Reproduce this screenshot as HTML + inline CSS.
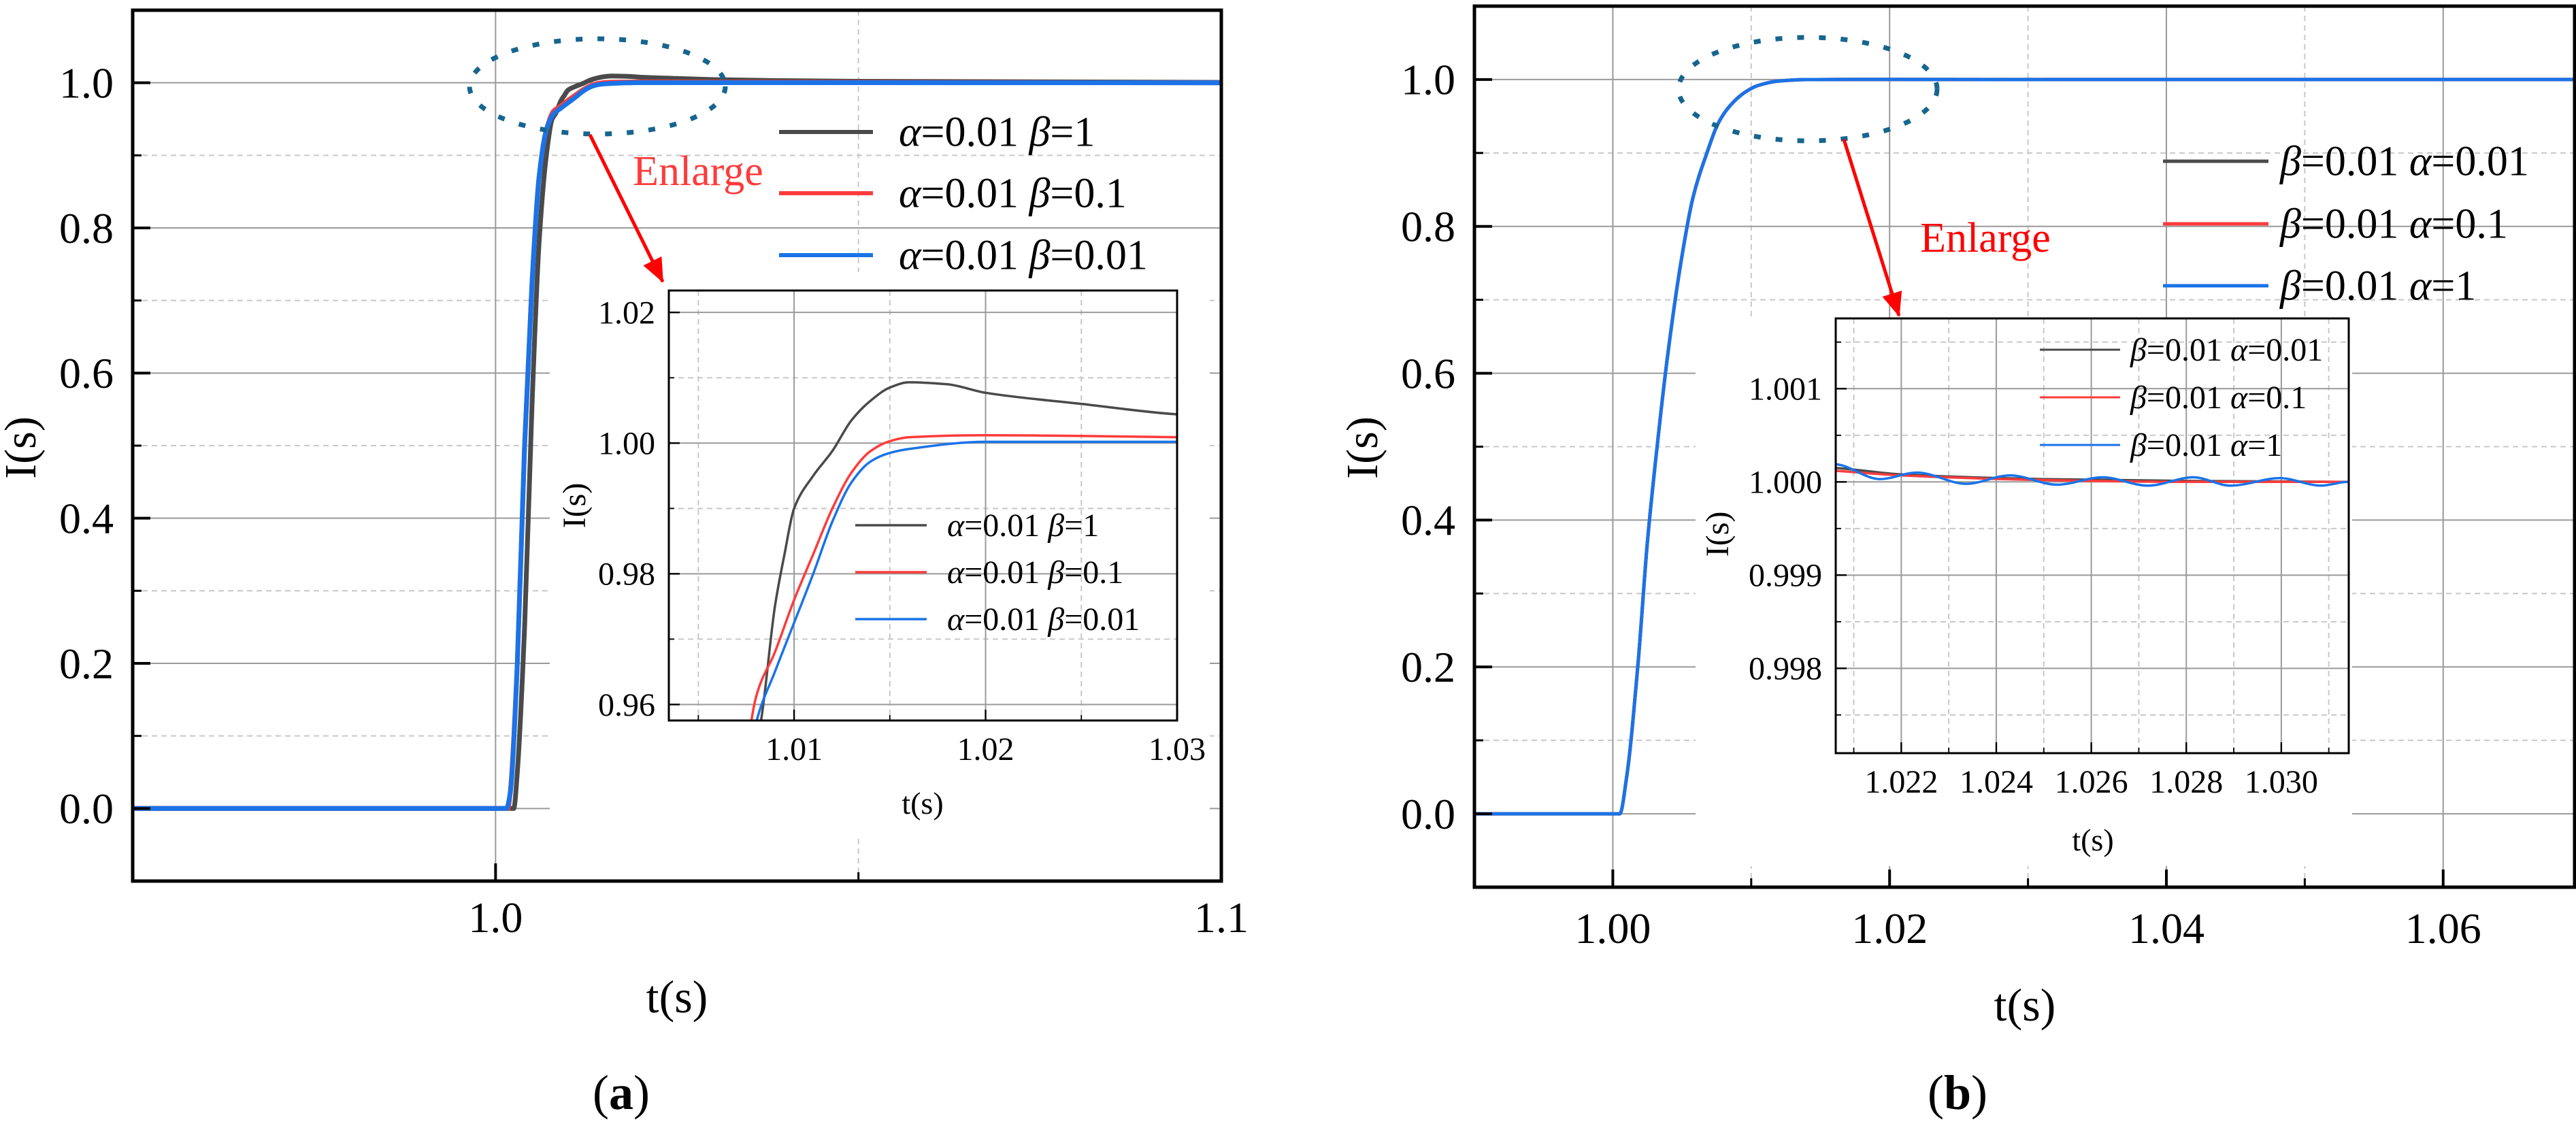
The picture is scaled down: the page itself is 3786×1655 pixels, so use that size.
<!DOCTYPE html>
<html><head><meta charset="utf-8"><style>
html,body{margin:0;padding:0;background:#fff;overflow:hidden;width:3786px;height:1655px;}
svg{display:block;}
svg text{font-family:"Liberation Serif","Times New Roman",Times,serif;}
</style></head><body>
<svg id="fig" width="3786" height="1655" viewBox="0 0 3786 1655" xmlns="http://www.w3.org/2000/svg">
<defs>
<clipPath id="clipA"><rect x="195" y="15" width="1600" height="1280"/></clipPath>
<clipPath id="clipAi"><rect x="983" y="427" width="747" height="632"/></clipPath>
<clipPath id="clipB"><rect x="2167" y="9" width="1617" height="1295"/></clipPath>
<clipPath id="clipBi"><rect x="2698" y="468" width="754" height="639"/></clipPath>
<marker id="arrowHead" markerWidth="36" markerHeight="30" refX="34" refY="15" orient="auto" markerUnits="userSpaceOnUse" viewBox="0 0 36 30"><path d="M0,0 L36,15 L0,30 z" fill="#ff0000"/></marker>
</defs>
</svg>
<script>
// ===== Panel (a) data: time values and current values =====
const aBlackT = [0.95,1.0025,1.003,1.004,1.005,1.006,1.007,1.0078,1.0083,1.009,1.0095,1.010,1.011,1.012,1.013,1.014,1.015,1.016,1.018,1.020,1.025,1.030,1.050,1.100];
const aBlackV = [0,0,0.05,0.25,0.55,0.78,0.90,0.95,0.958,0.975,0.983,0.990,0.995,0.9988,1.0035,1.0065,1.0085,1.0093,1.009,1.0077,1.006,1.0044,1.002,1.0005];
const aRedT = [0.95,1.0017,1.002,1.003,1.004,1.005,1.006,1.007,1.008,1.009,1.010,1.011,1.012,1.013,1.014,1.015,1.016,1.020,1.025,1.030,1.100];
const aRedV = [0,0,0.02,0.2,0.5,0.72,0.87,0.935,0.961,0.968,0.976,0.983,0.990,0.9955,0.9988,1.0003,1.0009,1.0012,1.0011,1.0009,1.0];
const aBlueT = [0.95,1.0015,1.002,1.003,1.004,1.005,1.006,1.007,1.008,1.009,1.010,1.011,1.012,1.013,1.014,1.015,1.016,1.020,1.025,1.030,1.100];
const aBlueV = [0,0,0.02,0.2,0.5,0.72,0.87,0.935,0.957,0.965,0.9725,0.980,0.988,0.994,0.9972,0.9985,0.9991,1.0002,1.0002,1.0002,1.0];
const aMainYTicks = [0.0,0.2,0.4,0.6,0.8,1.0];
const aMainYLabels = ["0.0","0.2","0.4","0.6","0.8","1.0"];
const aMainXTicks = [1.0,1.1];
const aMainXLabels = ["1.0","1.1"];
const aInsetYTicks = [0.96,0.98,1.00,1.02];
const aInsetYLabels = ["0.96","0.98","1.00","1.02"];
const aInsetXTicks = [1.01,1.02,1.03];
const aInsetXLabels = ["1.01","1.02","1.03"];
const aLegend = [["α","=0.01 ","β","=1"],["α","=0.01 ","β","=0.1"],["α","=0.01 ","β","=0.01"]];

// ===== Panel (b) data =====
const bRiseT = [0.99,1.0005,1.001,1.0018,1.0025,1.0032,1.004,1.005,1.0058,1.0068,1.0076,1.0085,1.0095,1.0105,1.012,1.014,1.018];
const bRiseV = [0,0,0.05,0.2,0.37,0.5,0.63,0.76,0.84,0.90,0.94,0.965,0.982,0.992,0.998,0.9999,1.0002];
const bBlackT = [1.0206,1.022,1.025,1.028,1.0314,1.07];
const bBlackV = [1.00015,1.00008,1.00003,1.00001,1.0,1.0];
const bRedT = [1.0206,1.022,1.025,1.028,1.0314,1.07];
const bRedV = [1.00012,1.00007,1.00002,1.0,1.0,1.0];
const bBlueT = [1.0206,1.02155,1.02233,1.02337,1.02429,1.02528,1.02624,1.02719,1.02815,1.02893,1.02997,1.03084,1.0314,1.07];
const bBlueV = [1.00019,1.00003,1.0001,0.99998,1.00007,0.99997,1.00005,0.99996,1.00005,0.99996,1.00004,0.99996,1.0,1.0];
const bMainYTicks = [0.0,0.2,0.4,0.6,0.8,1.0];
const bMainYLabels = ["0.0","0.2","0.4","0.6","0.8","1.0"];
const bMainXTicks = [1.00,1.02,1.04,1.06];
const bMainXLabels = ["1.00","1.02","1.04","1.06"];
const bInsetYTicks = [0.998,0.999,1.000,1.001];
const bInsetYLabels = ["0.998","0.999","1.000","1.001"];
const bInsetXTicks = [1.022,1.024,1.026,1.028,1.030];
const bInsetXLabels = ["1.022","1.024","1.026","1.028","1.030"];
const bLegend = [["β","=0.01 ","α","=0.01"],["β","=0.01 ","α","=0.1"],["β","=0.01 ","α","=1"]];

const COLORS = ["#4a4a4a","#ff3b3b","#1a73e8"];
const NS = "http://www.w3.org/2000/svg";
const svg = document.getElementById("fig");
const FONT = '"Liberation Serif", "Times New Roman", Times, serif';

function mk(tag, attrs, parent){
  const e = document.createElementNS(NS, tag);
  for (const k in attrs) e.setAttribute(k, attrs[k]);
  if (tag === "text") { e.setAttribute("font-family", "Liberation Serif, serif"); e.style.fontFamily = FONT; }
  (parent||svg).appendChild(e);
  return e;
}
function axis(d0,d1,p0,p1){ return v => p0 + (v-d0)/(d1-d0)*(p1-p0); }

function drawAxes(g, box, xs, ys, grid){
  grid.minX.forEach(v=>{ const l=mk("line",{x1:xs(v),x2:xs(v),y1:box.y0,y2:box.y1,stroke:"#c8c8c8","stroke-width":2,"stroke-dasharray":"8,6"},g);
    
    });
  grid.minY.forEach(v=>{ const l=mk("line",{x1:box.x0,x2:box.x1,y1:ys(v),y2:ys(v),stroke:"#c8c8c8","stroke-width":2,"stroke-dasharray":"8,6"},g);
    
    });
  grid.majX.forEach(v=>{ const l=mk("line",{x1:xs(v),x2:xs(v),y1:box.y0,y2:box.y1,stroke:"#9a9a9a","stroke-width":2},g);
    
    });
  grid.majY.forEach(v=>{ const l=mk("line",{x1:box.x0,x2:box.x1,y1:ys(v),y2:ys(v),stroke:"#9a9a9a","stroke-width":2},g);
    
    });
}
function drawFrameTicks(g, box, xs, ys, ticks, labs, fs, tickLen, frameW, gap){
  ticks.minX.forEach(v=>{ const l=mk("line",{x1:xs(v),x2:xs(v),y1:box.y1,y2:box.y1-tickLen/2,stroke:"#000","stroke-width":frameW*0.6},g);
    
    });
  ticks.minY.forEach(v=>{ const l=mk("line",{x1:box.x0,x2:box.x0+tickLen/2,y1:ys(v),y2:ys(v),stroke:"#000","stroke-width":frameW*0.6},g);
    
    });
  labs.xT.forEach((v,i)=>{
    const l=mk("line",{x1:xs(v),x2:xs(v),y1:box.y1,y2:box.y1-tickLen,stroke:"#000","stroke-width":frameW*0.8},g);
    
    
    const t=mk("text",{x:xs(v),y:box.y1+gap.x,"font-size":fs,"text-anchor":"middle"},g);
    t.textContent=labs.xL[i];
    
    
  });
  labs.yT.forEach((v,i)=>{
    const l=mk("line",{x1:box.x0,x2:box.x0+tickLen,y1:ys(v),y2:ys(v),stroke:"#000","stroke-width":frameW*0.8},g);
    
    
    const t=mk("text",{x:box.x0-gap.y,y:ys(v)+fs*0.34,"font-size":fs,"text-anchor":"end"},g);
    t.textContent=labs.yL[i];
    
    
  });
  const f=mk("rect",{x:box.x0,y:box.y0,width:box.x1-box.x0,height:box.y1-box.y0,fill:"none",stroke:"#000","stroke-width":frameW},g);
  
  
}
// monotone cubic (Fritsch-Carlson) path in pixel space, x strictly increasing
function monoPath(P){
  const n=P.length, dx=[], m=[], tg=new Array(n);
  for(let i=0;i<n-1;i++){ dx[i]=P[i+1][0]-P[i][0]; m[i]=(P[i+1][1]-P[i][1])/dx[i]; }
  tg[0]=m[0]; tg[n-1]=m[n-2];
  for(let i=1;i<n-1;i++){
    if(m[i-1]*m[i]<=0) tg[i]=0;
    else { const w1=2*dx[i]+dx[i-1], w2=dx[i]+2*dx[i-1]; tg[i]=(w1+w2)/(w1/m[i-1]+w2/m[i]); }
  }
  let d="M"+P[0][0].toFixed(1)+","+P[0][1].toFixed(1);
  for(let i=0;i<n-1;i++){
    const h=dx[i]/3;
    d+=" C"+(P[i][0]+h).toFixed(1)+","+(P[i][1]+tg[i]*h).toFixed(1)+" "+(P[i+1][0]-h).toFixed(1)+","+(P[i+1][1]-tg[i+1]*h).toFixed(1)+" "+P[i+1][0].toFixed(1)+","+P[i+1][1].toFixed(1);
  }
  return d;
}
function drawSeries(g, T, V, xs, ys, color, w, clip, name){
  const pts = T.map((t,i)=>[xs(t),ys(V[i])]);
  const p = mk("path",{d:monoPath(pts),fill:"none",stroke:color,"stroke-width":w,"stroke-linejoin":"round","clip-path":"url(#"+clip+")"},g);
  
  
}
function drawLegend(g, items, x0, x1, tx, ys, fs, w){
  items.forEach((it,i)=>{
    const l=mk("line",{x1:x0,x2:x1,y1:ys[i],y2:ys[i],stroke:COLORS[i],"stroke-width":w},g);
    
    
    const t=mk("text",{x:tx,y:ys[i]+fs*0.33,"font-size":fs},g);
    
    
    it.forEach((s,k)=>{ const sp=mk("tspan",{},t); if(k%2===0) sp.setAttribute("font-style","italic"); sp.textContent=s; });
  });
}
function text(g, x, y, s, fs, attrs, name){
  const t=mk("text",Object.assign({x:x,y:y,"font-size":fs,"text-anchor":"middle"},attrs||{}),g);
  t.textContent=s;
  
  
  return t;
}
function caption(g,x,y,letter,name){
  const t=mk("text",{x:x,y:y,"font-size":72,"text-anchor":"middle"},g);
  
  
  const a=mk("tspan",{},t); a.textContent="(";
  const b=mk("tspan",{"font-weight":"bold"},t); b.textContent=letter;
  const c=mk("tspan",{},t); c.textContent=")";
}

// ================= PANEL A =================
const gA = mk("g",{});


const boxA={x0:195,x1:1795,y0:15,y1:1295};
const xA=axis(0.95,1.1,boxA.x0,boxA.x1), yA=axis(-0.1,1.1,boxA.y1,boxA.y0);
drawAxes(gA,boxA,xA,yA,{majX:[1.0],minX:[1.05],majY:aMainYTicks,minY:[-0.1,0.1,0.3,0.5,0.7,0.9]});
const bgA=mk("rect",{x:808,y:400,width:970,height:830,fill:"#fff"},gA);


const seriesNames=["series-black","series-red","series-blue"];
[[aBlackT,aBlackV],[aRedT,aRedV],[aBlueT,aBlueV]].forEach((s,i)=>drawSeries(gA,s[0],s[1],xA,yA,COLORS[i],7,"clipA",seriesNames[i]+"-main"));
drawFrameTicks(gA,boxA,xA,yA,{minX:[1.05],minY:[0.1,0.3,0.5,0.7,0.9]},{xT:aMainXTicks,xL:aMainXLabels,yT:aMainYTicks,yL:aMainYLabels},64,26,5,{x:75,y:28});
text(gA,995,1488,"t(s)",68,{},"x-axis-title");
text(gA,37,658,"I(s)",66,{transform:"rotate(-90 37 658)","dominant-baseline":"middle"},"y-axis-title");
caption(gA,913,1630,"a","panel-a-caption");
drawLegend(gA,aLegend,1145,1283,1321,[194,284,375],62,6);
text(gA,1026,272,"Enlarge",62,{fill:"#ff3b3b"},"enlarge-label");
const elA=mk("ellipse",{cx:878,cy:127,rx:188,ry:70,fill:"none",stroke:"#16658f","stroke-width":7,"stroke-dasharray":"10,22"},gA);


const arA=mk("line",{x1:867,y1:198,x2:974,y2:414,stroke:"#ff0000","stroke-width":5,"marker-end":"url(#arrowHead)"},gA);


const boxAi={x0:983,x1:1730,y0:427,y1:1059};
const xAi=axis(1.00346,1.03,boxAi.x0,boxAi.x1), yAi=axis(0.95755,1.02335,boxAi.y1,boxAi.y0);
drawAxes(gA,boxAi,xAi,yAi,{majX:aInsetXTicks,minX:[1.005,1.015,1.025],majY:aInsetYTicks,minY:[0.97,0.99,1.01]});
[[aBlackT,aBlackV],[aRedT,aRedV],[aBlueT,aBlueV]].forEach((s,i)=>drawSeries(gA,s[0],s[1],xAi,yAi,COLORS[i],3.5,"clipAi",seriesNames[i]+"-inset"));
drawFrameTicks(gA,boxAi,xAi,yAi,{minX:[1.005,1.015,1.025],minY:[0.97,0.99,1.01]},{xT:aInsetXTicks,xL:aInsetXLabels,yT:aInsetYTicks,yL:aInsetYLabels},48,16,3,{x:58,y:20});
text(gA,1356,1196,"t(s)",46,{},"inset-x-axis-title");
text(gA,849,743,"I(s)",48,{transform:"rotate(-90 849 743)","dominant-baseline":"middle"},"inset-y-axis-title");
drawLegend(gA,aLegend,1257,1362,1392,[772,841,910],48,3.5);

// ================= PANEL B =================
const gB = mk("g",{});


const boxB={x0:2167,x1:3784,y0:9,y1:1304};
const xB=axis(0.99,1.0695,boxB.x0,boxB.x1), yB=axis(-0.1,1.1,boxB.y1,boxB.y0);
drawAxes(gB,boxB,xB,yB,{majX:bMainXTicks,minX:[1.01,1.03,1.05],majY:bMainYTicks,minY:[-0.1,0.1,0.3,0.5,0.7,0.9]});
const bgB=mk("rect",{x:2492,y:467,width:965,height:806,fill:"#fff"},gB);


const bSeries=[[bRiseT.concat(bBlackT),bRiseV.concat(bBlackV)],[bRiseT.concat(bRedT),bRiseV.concat(bRedV)],[bRiseT.concat(bBlueT),bRiseV.concat(bBlueV)]];
bSeries.forEach((s,i)=>drawSeries(gB,s[0],s[1],xB,yB,COLORS[i],5,"clipB",seriesNames[i]+"-main"));
drawFrameTicks(gB,boxB,xB,yB,{minX:[1.01,1.03,1.05],minY:[0.1,0.3,0.5,0.7,0.9]},{xT:bMainXTicks,xL:bMainXLabels,yT:bMainYTicks,yL:bMainYLabels},64,26,5,{x:82,y:28});
text(gB,2976,1500,"t(s)",68,{},"x-axis-title");
text(gB,2009,658,"I(s)",66,{transform:"rotate(-90 2009 658)","dominant-baseline":"middle"},"y-axis-title");
caption(gB,2877,1630,"b","panel-b-caption");
drawLegend(gB,bLegend,3179,3334,3351,[237,329,420],62,5);
text(gB,2918,370,"Enlarge",62,{fill:"#ff0000"},"enlarge-label");
const elB=mk("ellipse",{cx:2657,cy:131,rx:190,ry:76,fill:"none",stroke:"#16658f","stroke-width":7,"stroke-dasharray":"10,22"},gB);


const arB=mk("line",{x1:2710,y1:205,x2:2791,y2:464,stroke:"#ff0000","stroke-width":5,"marker-end":"url(#arrowHead)"},gB);


const boxBi={x0:2698,x1:3452,y0:468,y1:1107};
const xBi=axis(1.02062,1.03142,boxBi.x0,boxBi.x1), yBi=axis(0.99709,1.001754,boxBi.y1,boxBi.y0);
drawAxes(gB,boxBi,xBi,yBi,{majX:bInsetXTicks,minX:[1.021,1.023,1.025,1.027,1.029,1.031],majY:bInsetYTicks,minY:[0.9975,0.9985,0.9995,1.0005,1.0015]});
bSeries.forEach((s,i)=>drawSeries(gB,s[0],s[1],xBi,yBi,COLORS[i],3.5,"clipBi",seriesNames[i]+"-inset"));
drawFrameTicks(gB,boxBi,xBi,yBi,{minX:[1.021,1.023,1.025,1.027,1.029,1.031],minY:[0.9975,0.9985,0.9995,1.0005,1.0015]},{xT:bInsetXTicks,xL:bInsetXLabels,yT:bInsetYTicks,yL:bInsetYLabels},48,16,3,{x:58,y:20});
text(gB,3076,1250,"t(s)",46,{},"inset-x-axis-title");
text(gB,2529,785,"I(s)",48,{transform:"rotate(-90 2529 785)","dominant-baseline":"middle"},"inset-y-axis-title");
drawLegend(gB,bLegend,2998,3116,3131,[514,584,654],48,3);
</script>
</body></html>
